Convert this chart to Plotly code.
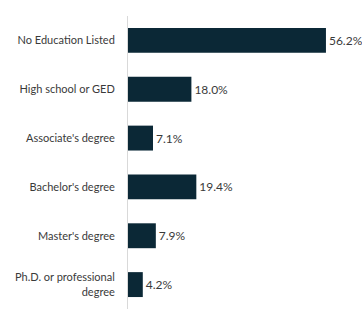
import plotly.graph_objects as go

categories = ["No Education Listed", "High school or GED", "Associate's degree",
              "Bachelor's degree", "Master's degree", "Ph.D. or professional<br>degree"]
values = [56.2, 18.0, 7.1, 19.4, 7.9, 4.2]
labels = ["56.2%", "18.0%", "7.1%", "19.4%", "7.9%", "4.2%"]

fig = go.Figure(go.Bar(
    x=values, y=categories, orientation="h",
    marker=dict(color="#0b2836", line=dict(width=0)),
    text=labels, textposition="outside", cliponaxis=False,
    textfont=dict(family="Lato", size=12, color="#3a3a3a"),
    width=0.51,
))

fig.update_layout(
    width=362, height=326,
    margin=dict(l=128, r=4, t=16, b=17),
    paper_bgcolor="white", plot_bgcolor="white",
    showlegend=False,
    font=dict(family="Lato", size=11, color="#3a3a3a"),
    xaxis=dict(range=[0, 65.3], visible=False),
    yaxis=dict(autorange="reversed", showline=True, linecolor="#d9d9d9", linewidth=1,
               ticks="", ticklabelstandoff=10,
               tickfont=dict(family="Lato", size=11, color="#3a3a3a")),
)

fig.write_html("out.html")
